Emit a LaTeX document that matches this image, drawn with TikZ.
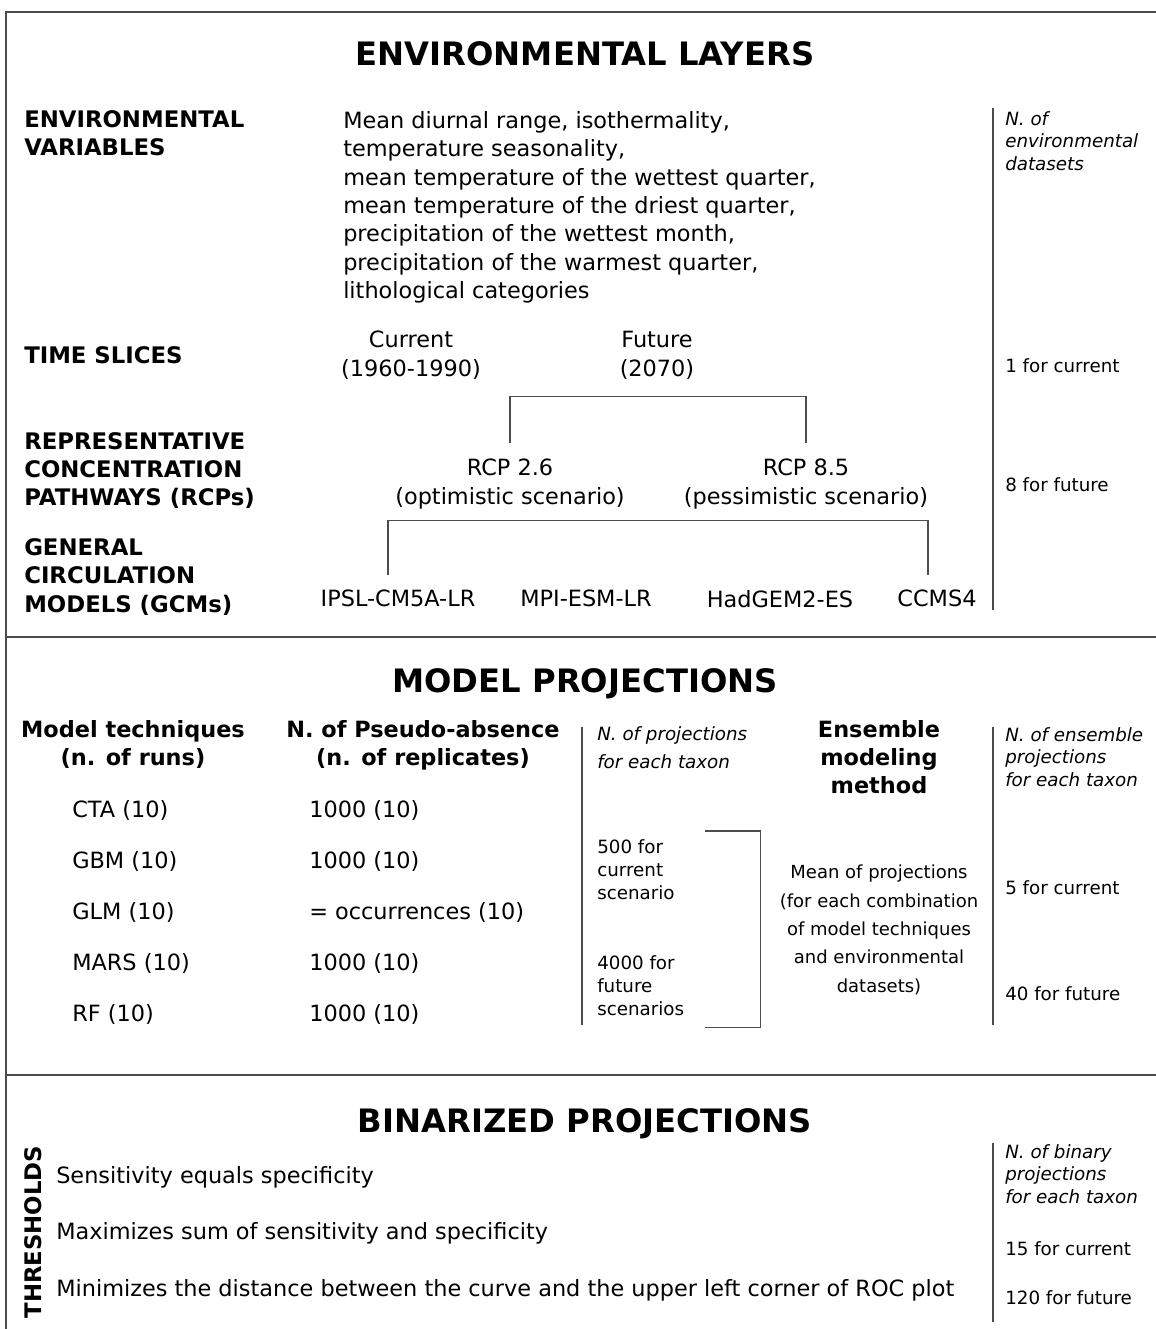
\documentclass[tikz,border=0pt]{standalone}
\usepackage{fontspec}
\setmainfont{DejaVu Sans}
\usepackage{tikz}
\usetikzlibrary{positioning,calc}

\definecolor{linegray}{gray}{0.3}

\begin{document}
\begin{tikzpicture}[x=0.75pt, y=-0.75pt,
        title/.style={font=\fontsize{24.2}{29}\selectfont\bfseries, anchor=north, inner sep=0pt},
        rowlab/.style={font=\fontsize{17.1}{21.3}\selectfont\bfseries, align=left, anchor=north west, inner sep=0pt},
        colhead/.style={font=\fontsize{16.8}{21}\selectfont\bfseries, align=center, anchor=north, inner sep=0pt},
        txt/.style={font=\fontsize{16.8}{21.3}\selectfont, align=left, anchor=north west, inner sep=0pt},
        ctxt/.style={txt, align=center, anchor=north},
        mtxt/.style={font=\fontsize{13.5}{21.2}\selectfont, align=center, anchor=north, inner sep=0pt},
        note/.style={font=\fontsize{13.7}{16.9}\selectfont\itshape, align=left, anchor=north west, inner sep=0pt},
        count/.style={font=\fontsize{13.7}{17.2}\selectfont, align=left, anchor=north west, inner sep=0pt},
        frame/.style={draw=linegray, line width=1.6pt},
        divider/.style={draw=linegray, line width=1.3pt},
        bracket/.style={draw=linegray, line width=1pt}
    ]
        \useasboundingbox (0,0) rectangle (1156,1329);

        % Frame and section rules
        \draw[frame] (6,1329) -- (6,12) -- (1156,12);
        \draw[frame] (6,637) -- (1156,637);
        \draw[frame] (6,1075) -- (1156,1075);

        % Environmental layers
        \node[title] (envtitle) at (585,41) {ENVIRONMENTAL LAYERS};
        \node[rowlab] (varlab) at (24,110) {ENVIRONMENTAL\\VARIABLES};
        \node[txt] (vars) at (343,111) {Mean diurnal range, isothermality,\\temperature seasonality,\\mean temperature of the wettest quarter,\\mean temperature of the driest quarter,\\precipitation of the wettest month,\\precipitation of the warmest quarter,\\lithological categories};
        \node[note] (envnote) at (1005,111) {N. of\\environmental\\datasets};

        \node[rowlab] (timelab) at (24,346) {TIME SLICES};
        \node[ctxt] (current) at (411,331) {Current\\(1960-1990)};
        \node[ctxt] (future) at (657,331) {Future\\(2070)};
        \node[count] (cnt1) at (1005,358) {1 for current};

        \node[rowlab] (rcplab) at (24,432) {REPRESENTATIVE\\CONCENTRATION\\PATHWAYS (RCPs)};
        \node[ctxt] (rcp26) at (510,459) {RCP 2.6\\(optimistic scenario)};
        \node[ctxt] (rcp85) at (806,459) {RCP 8.5\\(pessimistic scenario)};
        \node[count] (cnt8) at (1005,477) {8 for future};

        \node[rowlab] (gcmlab) at (24,538) {GENERAL\\CIRCULATION\\MODELS (GCMs)};
        \node[ctxt] (ipsl) at (398,590) {IPSL-CM5A-LR};
        \node[ctxt] (mpi) at (586,590) {MPI-ESM-LR};
        \node[ctxt] (had) at (780,590) {HadGEM2-ES};
        \node[ctxt] (ccms) at (937,590) {CCMS4};

        \draw[divider] (993,108) -- (993,610);

        % Brackets
        \draw[bracket] ($(rcp26.north)+(0,-16)$) |- ($(future.south)+(0,17)$) -| ($(rcp85.north)+(0,-16)$);
        \draw[bracket] ($(ipsl.north)+(-10,-15)$) |- ($(rcp26.south)+(0,11)$) -| ($(ccms.north)+(-9,-15)$);

        % Model projections
        \node[title] (modtitle) at (585,668) {MODEL PROJECTIONS};
        \node[colhead] (techhead) at (133,720) {Model techniques\\(n. of runs)};
        \node[colhead] (pseudohead) at (423,720) {N. of Pseudo-absence\\(n. of replicates)};

        \node[txt] (cta) at (72,800) {CTA (10)};
        \node[txt] (gbm) at (72,851) {GBM (10)};
        \node[txt] (glm) at (72,902) {GLM (10)};
        \node[txt] (mars) at (72,953) {MARS (10)};
        \node[txt] (rf) at (72,1004) {RF (10)};

        \node[txt] (ctapa) at (309,800) {1000 (10)};
        \node[txt] (gbmpa) at (309,851) {1000 (10)};
        \node[txt] (glmpa) at (309,902) {= occurrences (10)};
        \node[txt] (marspa) at (309,953) {1000 (10)};
        \node[txt] (rfpa) at (309,1004) {1000 (10)};

        \draw[divider] (582,727) -- (582,1025);
        \node[note, font=\fontsize{13.7}{21}\selectfont\itshape] (projnote) at (597,726) {N. of projections\\for each taxon};
        \node[count] (cur500) at (597,839) {500 for\\current\\scenario};
        \node[count] (fut4000) at (597,955) {4000 for\\future\\scenarios};

        \node[colhead] (enshead) at (879,720) {Ensemble\\modeling\\method};
        \node[mtxt] (mean) at (879,865) {Mean of projections\\(for each combination\\of model techniques\\and environmental\\datasets)};
        \draw[bracket] ($(cur500.north west)+(108,-8)$) -| ($(mean.west)+(-19,0)$) |- ($(fut4000.south west)+(108,12)$);

        \draw[divider] (993,727) -- (993,1025);
        \node[note] (ensnote) at (1005,727) {N. of ensemble\\projections\\for each taxon};
        \node[count] (cnt5) at (1005,880) {5 for current};
        \node[count] (cnt40) at (1005,986) {40 for future};

        % Binarized projections
        \node[title] (bintitle) at (585,1108) {BINARIZED PROJECTIONS};
        \node[rowlab, rotate=90, anchor=center] (thrlab) at (33,1232) {THRESHOLDS};
        \node[txt] (thr1) at (56,1166) {Sensitivity equals specificity};
        \node[txt] (thr2) at (56,1222) {Maximizes sum of sensitivity and specificity};
        \node[txt] (thr3) at (56,1279) {Minimizes the distance between the curve and the upper left corner of ROC plot};

        \draw[divider] (993,1143) -- (993,1322);
        \node[note] (binnote) at (1005,1144) {N. of binary\\projections\\for each taxon};
        \node[count] (cnt15) at (1005,1241) {15 for current};
        \node[count] (cnt120) at (1005,1290) {120 for future};
    \end{tikzpicture}
\end{document}
